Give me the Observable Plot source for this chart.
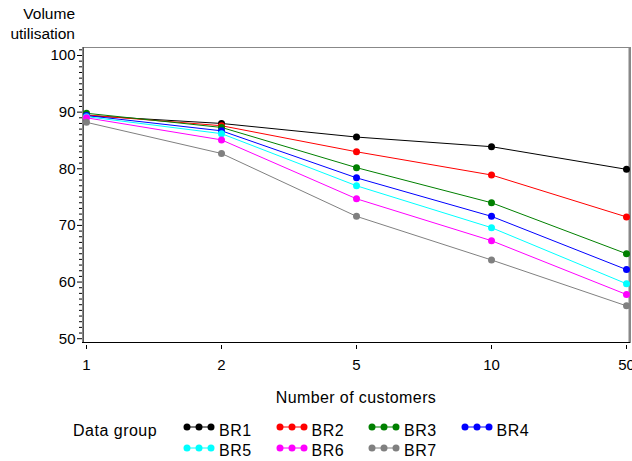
<!DOCTYPE html>
<html>
<head>
<meta charset="utf-8">
<script src="https://cdn.jsdelivr.net/npm/d3@7"></script>
<script src="https://cdn.jsdelivr.net/npm/@observablehq/plot@0.6"></script>
<style>
  html, body { margin: 0; padding: 0; background: white; }
  #wrap { position: relative; width: 632px; height: 461px; overflow: hidden; font-family: "Liberation Sans", Arial, sans-serif; color: black; }
  #wrap svg.plot { position: absolute; left: 0; top: 0; }
  .lbl { position: absolute; font-size: 16px; line-height: 20px; white-space: nowrap; }
</style>
</head>
<body>
<div id="wrap"></div>
<script>
const xCats = ["1", "2", "5", "10", "50"];
const series = ["BR1", "BR2", "BR3", "BR4", "BR5", "BR6", "BR7"];
const colors = ["#000000", "#FF0000", "#008000", "#0000FF", "#00FFFF", "#FF00FF", "#808080"];
const br1 = [89.4, 88.0, 85.6, 83.9, 79.9];
const br2 = [89.5, 87.6, 83.0, 78.9, 71.5];
const br3 = [89.8, 87.3, 80.2, 74.0, 65.0];
const br4 = [89.4, 86.7, 78.4, 71.6, 62.2];
const br5 = [89.2, 86.2, 77.0, 69.6, 59.7];
const br6 = [89.0, 85.1, 74.7, 67.3, 57.8];
const br7 = [88.2, 82.7, 71.6, 63.9, 55.8];
const yMajor = [50, 60, 70, 80, 90, 100];
const yMinor = d3.range(50, 102).filter(v => v % 10 !== 0);
const yDomain = [49.33, 101.41];
const yTitle = ["Volume", "utilisation"];
const xTitle = "Number of customers";
const legendTitle = "Data group";

const values = [br1, br2, br3, br4, br5, br6, br7];
const data = series.flatMap((s, i) => values[i].map((v, j) => ({x: xCats[j], y: v, s})));

const chart = Plot.plot({
  width: 632,
  height: 461,
  marginTop: 47,
  marginBottom: 119,
  marginLeft: 82,
  marginRight: 2,
  style: {fontFamily: "'Liberation Sans', Arial, sans-serif", fontSize: "15px", color: "black", background: "white"},
  x: {type: "point", domain: xCats, padding: 0, insetLeft: 3, insetRight: 3, label: null},
  y: {domain: yDomain, label: null},
  color: {domain: series, range: colors},
  marks: [
    Plot.frame({stroke: "#888"}),
    Plot.ruleX([xCats[xCats.length - 1]], {dx: 3, stroke: "#888", strokeWidth: 2}),
    Plot.ruleY([yDomain[0]], {stroke: "black"}),
    Plot.ruleX([xCats[0]], {dx: -3, stroke: "#555"}),
    Plot.axisY({ticks: yMajor, tickSize: 5, tickPadding: 2, label: null}),
    Plot.axisY({ticks: yMinor, tickSize: 3, tickFormat: () => "", label: null}),
    Plot.axisX({tickSize: 4, tickPadding: 10, dy: 3, label: null}),
    Plot.line(data, {x: "x", y: "y", z: "s", stroke: "s", strokeWidth: 1}),
    Plot.dot(data, {x: "x", y: "y", fill: "s", r: 3.5})
  ]
});
chart.classList.add("plot");
const wrap = document.getElementById("wrap");
wrap.appendChild(chart);

function addLabel(text, css) {
  const d = document.createElement("div");
  d.className = "lbl";
  d.textContent = text;
  Object.assign(d.style, css);
  wrap.appendChild(d);
  return d;
}

// Y title (two lines, right-aligned)
const yt = document.createElement("div");
yt.className = "lbl";
Object.assign(yt.style, {right: (632 - 75) + "px", top: "3.5px", textAlign: "right", fontSize: "15.5px"});
yt.innerHTML = yTitle.join("<br>");
wrap.appendChild(yt);

// X title
addLabel(xTitle, {left: "156px", width: "400px", textAlign: "center", top: "387.5px", letterSpacing: "0.4px"});

// Legend
addLabel(legendTitle, {left: "73px", top: "420.5px", letterSpacing: "0.5px"});
series.forEach((s, i) => {
  const col = i % 4, row = Math.floor(i / 4);
  const x0 = 183 + col * 92.5;
  const yc = 427 + row * 20.5;
  const ns = "http://www.w3.org/2000/svg";
  const sv = document.createElementNS(ns, "svg");
  sv.setAttribute("width", 32); sv.setAttribute("height", 10);
  sv.style.position = "absolute";
  sv.style.left = x0 + "px";
  sv.style.top = (yc - 5) + "px";
  const ln = document.createElementNS(ns, "line");
  ln.setAttribute("x1", 4); ln.setAttribute("x2", 28); ln.setAttribute("y1", 5); ln.setAttribute("y2", 5);
  ln.setAttribute("stroke", colors[i]); ln.setAttribute("stroke-width", 1);
  sv.appendChild(ln);
  [4, 16, 28].forEach(cx => {
    const c = document.createElementNS(ns, "circle");
    c.setAttribute("cx", cx); c.setAttribute("cy", 5); c.setAttribute("r", 3.5);
    c.setAttribute("fill", colors[i]);
    sv.appendChild(c);
  });
  wrap.appendChild(sv);
  addLabel(s, {left: (x0 + 36) + "px", top: (420.5 + row * 20) + "px", letterSpacing: "0.5px"});
});
</script>
</body>
</html>
